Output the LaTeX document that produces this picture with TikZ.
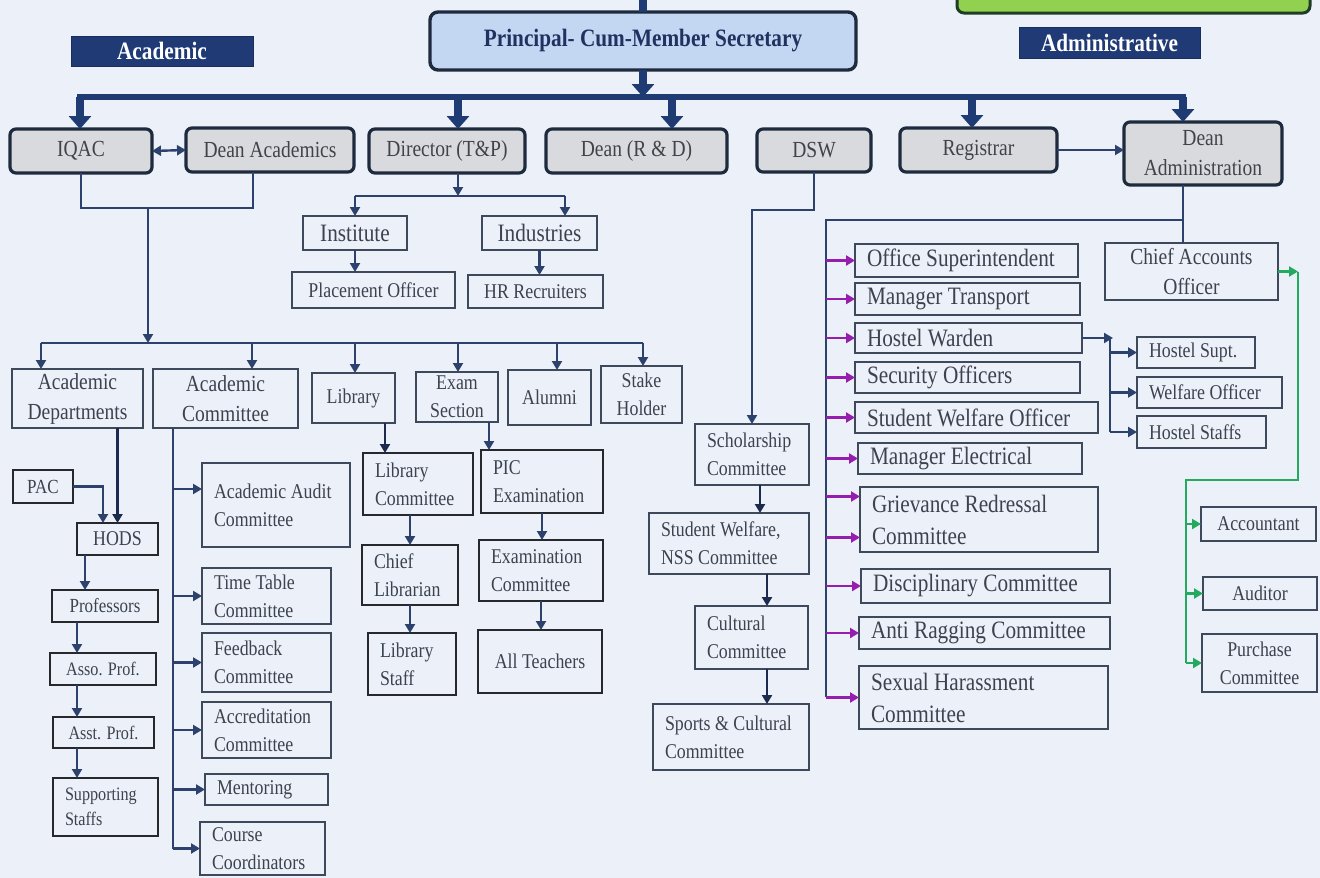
\documentclass[tikz,border=0pt]{standalone}
\usepackage{fontspec}
\setmainfont{Liberation Serif}[FakeStretch=0.85]
\usetikzlibrary{arrows.meta,calc}
\definecolor{bg}{RGB}{236,241,249}
\definecolor{bus}{RGB}{30,60,115}
\definecolor{connc}{RGB}{44,66,108}
\definecolor{conk}{RGB}{28,42,78}
\definecolor{edge}{RGB}{62,74,92}
\definecolor{dark}{RGB}{38,40,46}
\definecolor{txt}{RGB}{60,66,78}
\definecolor{toptxt}{RGB}{66,66,72}
\definecolor{topfill}{RGB}{217,218,222}
\definecolor{topedge}{RGB}{30,42,62}
\definecolor{pfill}{RGB}{196,215,242}
\definecolor{ptxt}{RGB}{31,50,96}
\definecolor{lab}{RGB}{32,58,118}
\definecolor{purp}{RGB}{150,30,175}
\definecolor{grn}{RGB}{35,170,95}
\definecolor{lgreen}{RGB}{146,208,80}
\definecolor{dgreen}{RGB}{30,60,40}
\newcommand\bx[7]{\node[#6,minimum width={(#4)-(#2)},minimum height={(#5)-(#3)}] (#1) at ({((#2)+(#4))/2},{((#3)+(#5))/2}) {#7};}
\newcommand\bxl[7]{\pgfmathsetmacro\bxtw{(#4)-(#2)-24}\node[#6,align=flush left,text width=\bxtw pt,inner xsep=12pt,minimum width={(#4)-(#2)},minimum height={(#5)-(#3)}] (#1) at ({((#2)+(#4))/2},{((#3)+(#5))/2}) {#7};}
\begin{document}
\begin{tikzpicture}[x=1pt,y=-1pt,
  every node/.style={inner sep=0pt,outer sep=0pt,text=txt},
  topbox/.style={draw=topedge,line width=3.2pt,fill=topfill,rounded corners=6pt,align=center,font=\fontsize{23}{30}\selectfont,text=toptxt},
  plain/.style={draw=edge,line width=2.4pt,align=center},
  darkbox/.style={draw=dark,line width=2.8pt,align=center},
  labbox/.style={fill=lab,draw=lab!80!black,line width=1pt,text=white,font=\fontsize{25}{30}\selectfont\bfseries},
  fa/.style={font=\fontsize{19}{25}\selectfont},
  fb/.style={font=\fontsize{21}{28}\selectfont},
  fc/.style={font=\fontsize{23}{30}\selectfont},
  fd/.style={font=\fontsize{25}{32}\selectfont},
  conn/.style={draw=connc,line width=2.2pt},
  sarr/.style={draw=connc,line width=2.2pt,-{Triangle[width=10pt,length=9pt]}},
  sarrk/.style={draw=conk,line width=2.8pt,-{Triangle[width=10pt,length=9pt]}},
  darr/.style={draw=connc,line width=2.4pt,{Triangle[width=10pt,length=9pt]}-{Triangle[width=10pt,length=9pt]}},
  big/.style={draw=bus,line width=8pt,-{Triangle[width=22pt,length=13pt]}},
  busl/.style={draw=bus,line width=6pt,line cap=rect},
  parr/.style={draw=purp,line width=2.8pt,-{Triangle[width=10pt,length=9pt]}},
  garr/.style={draw=grn,line width=2.6pt,-{Triangle[width=10pt,length=9pt]}},
  gline/.style={draw=grn,line width=2.6pt}]
\useasboundingbox (0,0) rectangle (1320,878);
\fill[bg] (0,0) rectangle (1320,878);
\clip (0,0) rectangle (1320,878);

% ---------- top ----------
\bx{green}{957}{-20}{1310}{13}{draw=dgreen,line width=3pt,fill=lgreen,rounded corners=7pt}{}
\bx{principal}{430}{12}{856}{70}{draw=topedge,line width=3.4pt,fill=pfill,rounded corners=8pt,text=ptxt,font=\fontsize{25}{30}\selectfont\bfseries}{Principal- Cum-Member Secretary}
\bx{lacad}{71}{36}{253}{66}{labbox}{Academic}
\bx{ladmin}{1019}{27}{1200}{58}{labbox}{Administrative}

\bx{iqac}{10}{129}{152}{173}{topbox}{IQAC}
\bx{deanacad}{186}{128}{354}{172}{topbox}{Dean Academics}
\bx{director}{369}{129}{525}{173}{topbox}{Director (T\&P)}
\bx{deanrd}{546}{129}{727}{173}{topbox}{Dean (R \& D)}
\bx{dsw}{757}{129}{871}{172}{topbox}{DSW}
\bx{registrar}{900}{128}{1057}{172}{topbox}{Registrar}
\bx{deanadm}{1124}{122}{1282}{185}{topbox}{Dean\\Administration}

% ---------- T&P ----------
\bx{institute}{303}{216}{407}{250}{plain,fd}{Institute}
\bx{industries}{482}{216}{597}{250}{plain,fd}{Industries}
\bx{placement}{292}{272}{455}{308}{plain,fb}{Placement Officer}
\bx{hr}{468}{275}{603}{308}{plain,fb}{HR Recruiters}

% ---------- academic row ----------
\bx{acdept}{12}{369}{143}{428}{plain,fc}{Academic\\Departments}
\bx{accomm}{153}{369}{298}{428}{plain,fc}{Academic\\Committee}
\bx{library}{312}{373}{395}{423}{plain,fb}{Library}
\bx{exam}{416}{372}{498}{422}{plain,fb}{Exam\\Section}
\bx{alumni}{508}{370}{591}{425}{plain,fb}{Alumni}
\bx{stake}{601}{366}{682}{423}{plain,fb}{Stake\\Holder}

% ---------- departments column ----------
\bx{pac}{13}{470}{73}{503}{darkbox,font=\fontsize{20}{25}\selectfont}{PAC}
\bx{hods}{77}{523}{158}{555}{darkbox,fb}{HODS}
\bx{prof}{52}{590}{158}{622}{darkbox,font=\fontsize{20}{25}\selectfont}{Professors}
\bx{asso}{50}{653}{156}{685}{darkbox,fa}{Asso. Prof.}
\bx{asst}{53}{717}{154}{748}{darkbox,fa}{Asst. Prof.}
\bxl{supp}{53}{778}{158}{836}{darkbox,fa}{Supporting\\Staffs}

% ---------- committee column ----------
\bxl{audit}{202}{463}{350}{547}{plain,fb}{Academic Audit\\Committee}
\bxl{ttable}{202}{568}{331}{624}{plain,fb}{Time Table\\Committee}
\bxl{feedback}{202}{633}{331}{692}{plain,fb}{Feedback\\Committee}
\bxl{accred}{202}{702}{331}{758}{plain,fb}{Accreditation\\Committee}
\bxl{mentor}{205}{774}{328}{805}{plain,fb}{Mentoring}
\bxl{course}{200}{822}{325}{875}{plain,fb}{Course\\Coordinators}

% ---------- library column ----------
\bxl{libcomm}{363}{453}{473}{515}{darkbox,fb}{Library\\Committee}
\bxl{chieflib}{362}{545}{458}{605}{darkbox,fb}{Chief\\Librarian}
\bxl{libstaff}{368}{633}{456}{695}{darkbox,fb}{Library\\Staff}

% ---------- exam column ----------
\bxl{pic}{481}{450}{603}{513}{darkbox,fb}{PIC\\Examination}
\bxl{examcomm}{479}{540}{603}{601}{darkbox,fb}{Examination\\Committee}
\bx{teachers}{478}{630}{602}{693}{darkbox,fb}{All Teachers}

% ---------- DSW column ----------
\bxl{scholar}{695}{424}{809}{485}{plain,fb}{Scholarship\\Committee}
\bxl{swnss}{649}{513}{809}{574}{plain,fb}{Student Welfare,\\NSS Committee}
\bxl{cultural}{695}{606}{808}{669}{plain,fb}{Cultural\\Committee}
\bxl{sports}{653}{704}{809}{770}{plain,fb}{Sports \& Cultural\\Committee}

% ---------- administrative list ----------
\bxl{offsup}{855}{244}{1078}{277}{plain,fd}{Office Superintendent}
\bxl{mtrans}{855}{283}{1080}{315}{plain,fd}{Manager Transport}
\bxl{warden}{855}{323}{1082}{353}{plain,fd}{Hostel Warden}
\bxl{security}{855}{362}{1080}{393}{plain,fd}{Security Officers}
\bxl{swo}{855}{402}{1098}{433}{plain,fd}{Student Welfare Officer}
\bxl{melec}{858}{443}{1082}{474}{plain,fd}{Manager Electrical}
\bxl{griev}{860}{487}{1098}{552}{plain,fd}{Grievance Redressal\\Committee}
\bxl{disc}{861}{569}{1110}{603}{plain,fd}{Disciplinary Committee}
\bxl{anti}{859}{617}{1110}{649}{plain,fd}{Anti Ragging Committee}
\bxl{sexual}{859}{666}{1108}{729}{plain,fd}{Sexual Harassment\\Committee}

% ---------- hostel ----------
\bxl{hsupt}{1137}{337}{1255}{368}{plain,fb}{Hostel Supt.}
\bxl{hwelf}{1137}{377}{1282}{408}{plain,fb}{Welfare Officer}
\bxl{hstaff}{1137}{416}{1266}{448}{plain,fb}{Hostel Staffs}

% ---------- accounts ----------
\bx{cao}{1105}{243}{1278}{300}{plain,fc}{Chief Accounts\\Officer}
\bx{acct}{1201}{507}{1316}{541}{plain,fb}{Accountant}
\bx{auditor}{1203}{577}{1317}{610}{plain,fb}{Auditor}
\bx{purchase}{1202}{634}{1317}{692}{plain,fb}{Purchase\\Committee}

% ================= connectors =================
\coordinate (ptop) at (643,0);
\draw[draw=bus,line width=8pt] (ptop) -- (principal.north);
\coordinate (bIQ) at (80,97);
\coordinate (bDir) at (458,97);
\coordinate (bP) at (643,97);
\coordinate (bRD) at (672,97);
\coordinate (bReg) at (972,97);
\coordinate (bDA) at (1183,97);
\draw[busl] (bIQ) -- (bDA);
\draw[big] (principal.south) -- (bP);
\draw[big] (bIQ) -- (bIQ |- iqac.north);
\draw[big] (bDir) -- (bDir |- director.north);
\draw[big] (bRD) -- (bRD |- deanrd.north);
\draw[big] (bReg) -- (bReg |- registrar.north);
\draw[big] (bDA) -- (bDA |- deanadm.north);

\draw[darr] (iqac.east) -- (deanacad.west);
\draw[sarr] (registrar.east) -- (registrar.east -| deanadm.west);

% IQAC / Dean Academics to academic bus
\coordinate (jA) at (148,208);
\coordinate (jB) at (253,208);
\draw[conn] (iqac.south) |- (jB) -- (jB |- deanacad.south);
\coordinate (abus) at (148,343);
\draw[sarr] (jA) -- (abus);
\coordinate (ab1) at (41,343);
\coordinate (ab2) at (252,343);
\coordinate (ab3) at (355,343);
\coordinate (ab4) at (458,343);
\coordinate (ab5) at (557,343);
\coordinate (ab6) at (643,343);
\draw[conn] (ab1) -- (ab6);
\draw[sarr] (ab1) -- (ab1 |- acdept.north);
\draw[sarr] (ab2) -- (ab2 |- accomm.north);
\draw[sarr] (ab3) -- (ab3 |- library.north);
\draw[sarr] (ab4) -- (ab4 |- exam.north);
\draw[sarr] (ab5) -- (ab5 |- alumni.north);
\draw[sarr] (ab6) -- (ab6 |- stake.north);

% Director (T&P)
\coordinate (tpj) at (458,196);
\coordinate (tpL) at (355,196);
\coordinate (tpR) at (565,196);
\draw[sarr] (director.south -| tpj) -- (tpj);
\draw[conn] (tpL) -- (tpR);
\draw[sarr] (tpL) -- (tpL |- institute.north);
\draw[sarr] (tpR) -- (tpR |- industries.north);
\draw[sarr] (institute.south) -- (institute.south |- placement.north);
\draw[sarr] (industries.south) -- (industries.south |- hr.north);

% departments
\draw[sarrk] (hods.north |- acdept.south) -- (hods.north);
\coordinate (pacj) at (103,523);
\draw[sarr] (pac.east) -| (pacj);
\coordinate (hx) at (85,0);
\coordinate (fx) at (77,0);
\draw[sarr] (hods.south -| hx) -- (prof.north -| hx);
\draw[sarr] (prof.south -| fx) -- (asso.north -| fx);
\draw[sarr] (asso.south -| fx) -- (asst.north -| fx);
\draw[sarr] (asst.south -| fx) -- (supp.north -| fx);

% committees
\coordinate (acs) at (173,428);
\draw[conn] (acs) -- (acs |- course.west);
\coordinate (aud) at ($(audit.west)+(0,-16)$);
\draw[sarr] (aud -| acs) -- (aud);
\foreach \n in {ttable,feedback,accred,mentor,course}
  \draw[sarr] (\n.west -| acs) -- (\n.west);

% library
\coordinate (libx) at (385,0);
\draw[sarrk] (library.south -| libx) -- (libcomm.north -| libx);
\draw[sarr] (libcomm.south -| chieflib.north) -- (chieflib.north);
\draw[sarr] (chieflib.south) -- (chieflib.south |- libstaff.north);

% exam
\coordinate (exx) at (489,0);
\draw[sarr] (exam.south -| exx) -- (pic.north -| exx);
\draw[sarr] (pic.south) -- (pic.south |- examcomm.north);
\draw[sarr] (examcomm.south) -- (examcomm.south |- teachers.north);

% DSW
\coordinate (dswj) at (752,210);
\draw[sarr] (dsw.south) |- (dswj) -- (scholar.north);
\coordinate (sx1) at (760,0);
\coordinate (sx2) at (767,0);
\draw[sarrk] (scholar.south -| sx1) -- (swnss.north -| sx1);
\draw[sarrk] (swnss.south -| sx2) -- (cultural.north -| sx2);
\draw[sarrk] (cultural.south -| sx2) -- (sports.north -| sx2);

% Dean Administration
\coordinate (admj) at (1183,220);
\coordinate (spb) at (826,697);
\draw[conn] (deanadm.south -| admj) -- (admj |- cao.north);
\draw[conn] (admj) -| (spb);
\foreach \n in {offsup,mtrans,warden,security,swo,melec,disc,anti,sexual}
  \draw[parr] (\n.west -| spb) -- (\n.west);
\coordinate (gv1) at ($(griev.west)+(0,-23)$);
\coordinate (gv2) at ($(griev.west)+(0,18)$);
\draw[parr] (gv1 -| spb) -- (gv1);
\draw[parr] (gv2 -| spb) -- (gv2);

% hostel
\coordinate (hwj) at (1113,338);
\coordinate (hwv) at (1110,0);
\draw[sarr] (warden.east) -- (warden.east -| hwj);
\draw[conn] (warden.east -| hwv) -- (hstaff.west -| hwv);
\foreach \n in {hsupt,hwelf,hstaff}
  \draw[sarr] (\n.west -| hwv) -- (\n.west);

% accounts
\coordinate (gj1) at (1298,272);
\coordinate (gj2) at (1186,480);
\draw[garr] (cao.east) -- (cao.east -| gj1);
\draw[gline] (cao.east -| gj1) |- (gj2) -- (gj2 |- purchase.west);
\foreach \n in {acct,auditor,purchase}
  \draw[garr] (\n.west -| gj2) -- (\n.west);
\end{tikzpicture}
\end{document}
